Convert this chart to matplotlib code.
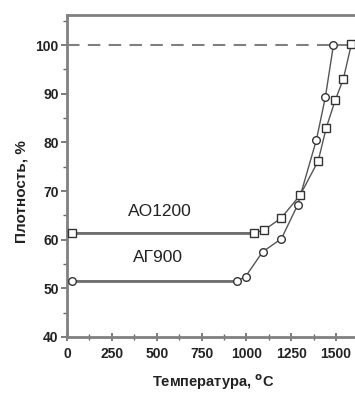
import matplotlib
matplotlib.use("Agg")
import matplotlib.pyplot as plt
from matplotlib.ticker import MultipleLocator

plt.rcParams['font.family'] = ['Liberation Sans', 'DejaVu Sans']

# AO1200 (squares)
t_ao = [28, 1040, 1100, 1195, 1300, 1400, 1445, 1495, 1540, 1585]
d_ao = [61.4, 61.4, 62.0, 64.5, 69.2, 76.2, 83.0, 88.7, 93.0, 100.2]
# AГ900 (circles)
t_ag = [28, 945, 995, 1090, 1195, 1285, 1390, 1440, 1485]
d_ag = [51.5, 51.5, 52.4, 57.5, 60.2, 67.1, 80.5, 89.3, 100.0]

xticks = [0, 250, 500, 750, 1000, 1250, 1500]
yticks = [40, 50, 60, 70, 80, 90, 100]

W, H = 355, 395
fig = plt.figure(figsize=(W / 100, H / 100), dpi=100)
ax = fig.add_axes([67 / W, 58 / H, (372 - 67) / W, (337 - 15) / H])

ax.axhline(100, color='#808080', lw=1.5, ls=(0, (6, 4)), zorder=1)
ax.plot(t_ao, d_ao, color='#555555', lw=1.0, zorder=2)
ax.plot(t_ag, d_ag, color='#555555', lw=1.0, zorder=2)
ax.plot(t_ao[:2], d_ao[:2], color='#707070', lw=2.0, zorder=2)
ax.plot(t_ag[:2], d_ag[:2], color='#707070', lw=2.0, zorder=2)
ax.plot(t_ao, d_ao, ls='none', marker='s', ms=5.5, mfc='white', mec='#333333', mew=1.0, zorder=3)
ax.plot(t_ag, d_ag, ls='none', marker='o', ms=5.5, mfc='white', mec='#333333', mew=1.0, zorder=3)

ax.text(515, 65.8, 'AO1200', ha='center', va='center', fontsize=12.5, color='#222222')
ax.text(505, 56.3, 'AГ900', ha='center', va='center', fontsize=12.5, color='#222222')

ax.set_xlim(0, 1700)
ax.set_ylim(40, 106.2)
ax.set_xticks(xticks)
ax.set_yticks(yticks)
ax.xaxis.set_minor_locator(MultipleLocator(125))
ax.yaxis.set_minor_locator(MultipleLocator(5))
ax.tick_params(axis='x', which='both', direction='inout', colors='#666666', labelcolor='#222222', labelsize=10, pad=4)
ax.tick_params(axis='x', which='major', length=6, width=1.2)
ax.tick_params(axis='x', which='minor', length=4, width=1.0)
ax.tick_params(axis='y', which='both', direction='out', colors='#666666', labelcolor='#222222', labelsize=10, pad=2)
ax.tick_params(axis='y', which='major', length=4, width=1.2)
ax.tick_params(axis='y', which='minor', length=3, width=1.0)
for lab in ax.get_xticklabels() + ax.get_yticklabels():
    lab.set_fontweight('bold')
for s in ax.spines.values():
    s.set_color('#808080')
    s.set_linewidth(2.0)

fig.text(22 / W, 1 - 192 / H, 'Плотность, %', rotation=90, ha='center', va='center',
         fontsize=11, fontweight='bold', color='#222222')
fig.text(213 / W, 1 - 382 / H, 'Температура, $^{\\mathbf{o}}$C', ha='center', va='center',
         fontsize=10.5, fontweight='bold', color='#222222')

fig.savefig('out.png', dpi=100)
